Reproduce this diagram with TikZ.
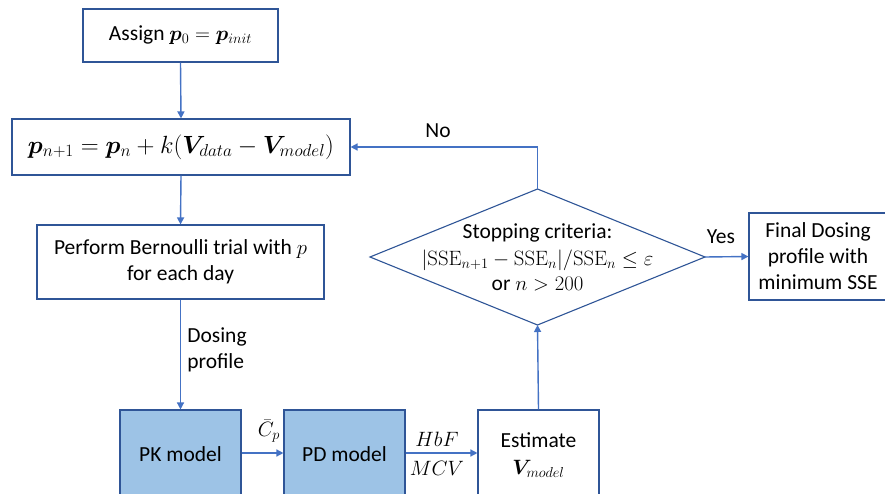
\documentclass[tikz,border=0pt]{standalone}
\usepackage{amsmath}
\usepackage{bm}
\usepackage[no-math]{fontspec}
\setmainfont{Carlito}
\usetikzlibrary{arrows.meta}
\definecolor{edgeblue}{HTML}{2F5597}
\definecolor{linkblue}{HTML}{4472C4}
\definecolor{modelfill}{HTML}{9DC3E6}
\tikzset{
  box/.style={draw=edgeblue, line width=1.1pt, fill=white, inner sep=0pt, align=center},
  modelbox/.style={box, fill=modelfill},
  link/.style={draw=linkblue, line width=1.4pt, -{Triangle[length=7pt,width=7pt]}},
  lbl/.style={inner sep=0pt, align=left},
  bigmath/.style={font=\fontsize{23}{26}\selectfont},
}
\begin{document}
\begin{tikzpicture}[x=1pt,y=-1pt,font=\fontsize{21.5}{26}\selectfont]
\useasboundingbox (0,0) rectangle (885,494);
\clip (0,0) rectangle (885,494);

% process boxes
\node[box, minimum width=195pt, minimum height=53pt] (init) at (180.5,35.5)
  {Assign $\bm{p}_0=\bm{p}_{init}$};
\node[box, bigmath, minimum width=338pt, minimum height=56pt] (update) at (181,147)
  {$\bm{p}_{n+1}=\bm{p}_n+k(\bm{V}_{data}-\bm{V}_{model})$};
\node[box, minimum width=287pt, minimum height=74pt] (trial) at (180.5,262)
  {Perform Bernoulli trial with $p$\\for each day};
\node[modelbox, minimum width=121pt, minimum height=110pt] (pk) at (180.5,465) {};
\node at (180.5,454) {PK model};
\node[modelbox, minimum width=121pt, minimum height=110pt] (pd) at (344.5,465) {};
\node at (344.5,454) {PD model};
\node[box, minimum width=121pt, minimum height=110pt] (est) at (538.5,465) {};
\node[align=center] at (538.5,455) {Estimate\\[1pt]$\bm{V}_{model}$};
\node[box, minimum width=138pt, minimum height=87pt] (final) at (818,256.5)
  {Final Dosing\\profile with\\minimum SSE};

% decision
\coordinate (dc) at (537.5,257);
\draw[edgeblue, line width=1.1pt, fill=white]
  (370,257) coordinate (dl) -- (537.5,189) coordinate (dt)
  -- (705,257) coordinate (dr) -- (537.5,325) coordinate (db) -- cycle;
\node[align=center, font=\fontsize{21.5}{24}\selectfont] (crit) at (dc)
  {Stopping criteria:\\[3pt]{\fontsize{22}{24}\selectfont$|\mathrm{SSE}_{n+1}-\mathrm{SSE}_n|/\mathrm{SSE}_n\le\varepsilon$}\\[1pt]or $n>200$};

% connectors
\draw[link] (init.south) -- (update.north);
\draw[link] (update.south) -- (trial.north);
\draw[link] (trial.south) -- (pk.north);
\draw[link] (pk.east |- 0,453) -- (pd.west |- 0,453);
\draw[link] (pd.east |- 0,453) -- (est.west |- 0,453);
\draw[link] (est.north) -- (db);
\draw[link] (dt) -- (537.5,147) -- (update.east);
\draw[link] (dr) -- (final.west);

% connector labels
\node[lbl] at (217,350) {Dosing\\profile};
\node[inner sep=1pt] at (269,431) {$\bar{C}_p$};
\node[inner sep=1pt] at (437,439) {$HbF$};
\node[inner sep=1pt] at (437,468) {$MCV$};
\node at (438,131) {No};
\node at (721,237) {Yes};
\end{tikzpicture}
\end{document}
